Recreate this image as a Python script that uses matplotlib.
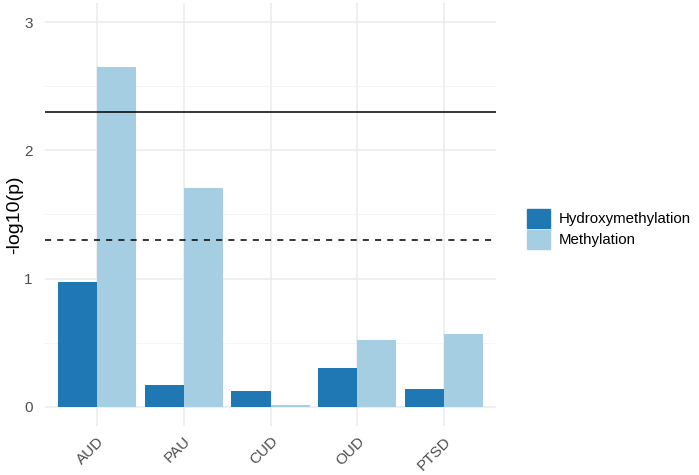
import matplotlib.pyplot as plt
import matplotlib.patches as mpatches
import numpy as np

plt.rcParams['font.family'] = ['Liberation Sans', 'DejaVu Sans']

categories = ["AUD", "PAU", "CUD", "OUD", "PTSD"]
hydroxy = [0.97, 0.17, 0.12, 0.30, 0.14]
methyl = [2.65, 1.71, 0.01, 0.52, 0.57]
series_names = ["Hydroxymethylation", "Methylation"]
colors = ["#1f78b4", "#a6cee3"]
thresholds = [2.30, 1.30]

fig = plt.figure(figsize=(6.99, 4.75), dpi=100)
ax = fig.add_axes([45 / 699, 1 - 426 / 475, 451 / 699, 423 / 475])

x = np.arange(1, len(categories) + 1)
w = 0.45
ax.bar(x - w / 2, hydroxy, width=w, color=colors[0], zorder=3)
ax.bar(x + w / 2, methyl, width=w, color=colors[1], zorder=3)

ax.axhline(thresholds[0], color="black", lw=1.1, zorder=4)
ax.axhline(thresholds[1], color="black", lw=1.1, ls=(0, (4, 4)), zorder=4)

ax.set_xlim(0.4, 5.6)
ax.set_ylim(-0.15, 3.15)
ax.set_xticks(x)
ax.set_xticklabels(categories, rotation=45, ha="right", rotation_mode="anchor")
ax.set_yticks([0, 1, 2, 3])
ax.set_yticks([0.5, 1.5, 2.5], minor=True)

ax.grid(which="major", color="#ebebeb", lw=1.1, zorder=0)
ax.grid(which="minor", axis="y", color="#f3f3f3", lw=0.6, zorder=0)
for s in ax.spines.values():
    s.set_visible(False)
ax.tick_params(which="both", length=0, labelsize=11, labelcolor="#4d4d4d")
ax.tick_params(axis="y", pad=9)
ax.tick_params(axis="x", pad=6)
ax.set_ylabel("-log10(p)", fontsize=14, va="center")
ax.yaxis.set_label_coords(-30 / 451, 0.5)

handles = [mpatches.Patch(color=c, label=n) for c, n in zip(colors, series_names)]
fig.legend(handles=handles, loc="center left", bbox_to_anchor=(519 / 699, 1 - 229 / 475),
           frameon=False, fontsize=10.8, handlelength=1.55, handleheight=1.55,
           handletextpad=0.6, labelspacing=0.15, borderpad=0)

fig.savefig("out.png", dpi=100)
